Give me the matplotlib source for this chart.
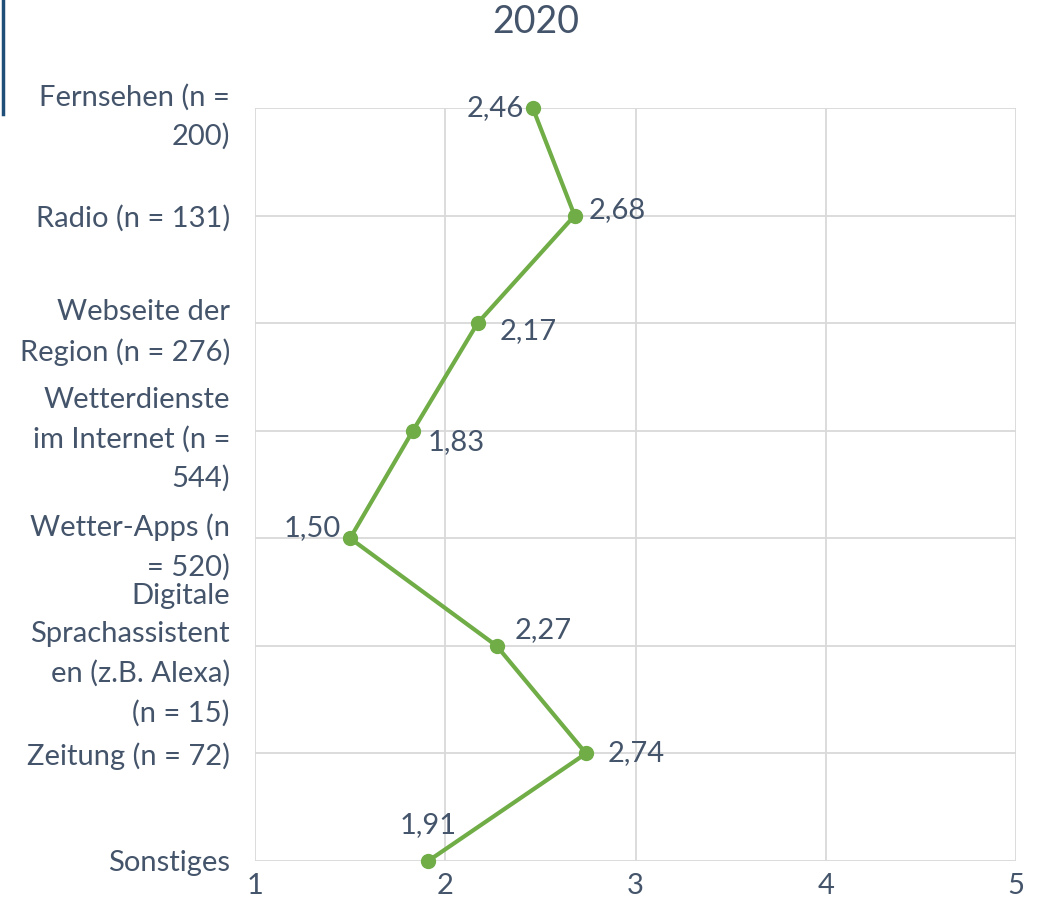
import matplotlib
matplotlib.use("Agg")
import matplotlib.pyplot as plt
from matplotlib.lines import Line2D

plt.rcParams['font.family'] = ['Lato', 'DejaVu Sans']

categories = ["Fernsehen (n =\n200)", "Radio (n = 131)", "Webseite der\nRegion (n = 276)",
              "Wetterdienste\nim Internet (n =\n544)", "Wetter-Apps (n\n= 520)",
              "Digitale\nSprachassistent\nen (z.B. Alexa)\n(n = 15)", "Zeitung (n = 72)", "Sonstiges"]
values = [2.46, 2.68, 2.17, 1.83, 1.50, 2.27, 2.74, 1.91]
# label offsets in px (dx, dy) and horizontal alignment
label_pos = [(-9, 0, 'right'), (14, 6, 'left'), (22, -8, 'left'), (15, -11, 'left'),
             (-9, 10, 'right'), (18, 16, 'left'), (22, 0, 'left'), (0, 36, 'center')]
x_ticks = [1, 2, 3, 4, 5]

text_col = '#44546a'
line_col = '#70ad47'
grid_col = '#d9d9d9'
fs = 21

fig = plt.figure(figsize=(10.43, 9.11), dpi=100)
ax = fig.add_axes([255 / 1043, 1 - 861 / 911, (1016 - 255) / 1043, (861 - 108) / 911])

y = list(range(len(categories)))
ax.plot(values, y, color=line_col, linewidth=3, marker='o', markersize=10, zorder=3, clip_on=False)

px = 72 / 100
for v, yy, (dx, dy, ha) in zip(values, y, label_pos):
    ax.annotate(f"{v:.2f}".replace('.', ','), (v, yy), xytext=(dx * px, dy * px),
                textcoords='offset points', ha=ha, va='center', fontsize=fs, color=text_col)

ax.set_xlim(1, 5)
ax.set_ylim(len(categories) - 1, 0)
ax.set_xticks(x_ticks)
ax.set_yticks(y)
ax.set_yticklabels(categories, linespacing=1.58)
ax.tick_params(axis='both', length=0, labelsize=fs, labelcolor=text_col)
ax.tick_params(axis='y', pad=18)
ax.tick_params(axis='x', pad=9)
ax.grid(True, color=grid_col, linewidth=1.3)
ax.set_axisbelow(True)
for s in ax.spines.values():
    s.set_visible(False)

fig.text(536 / 1043, 1 - 22 / 911, "2020", ha='center', va='center', fontsize=27, color=text_col)

# dark blue frame edge at top left
fig.add_artist(Line2D([3 / 1043, 3 / 1043], [1, 1 - 114 / 911], color='#1f4e79', linewidth=2.5))

fig.savefig("out.png", dpi=100)
